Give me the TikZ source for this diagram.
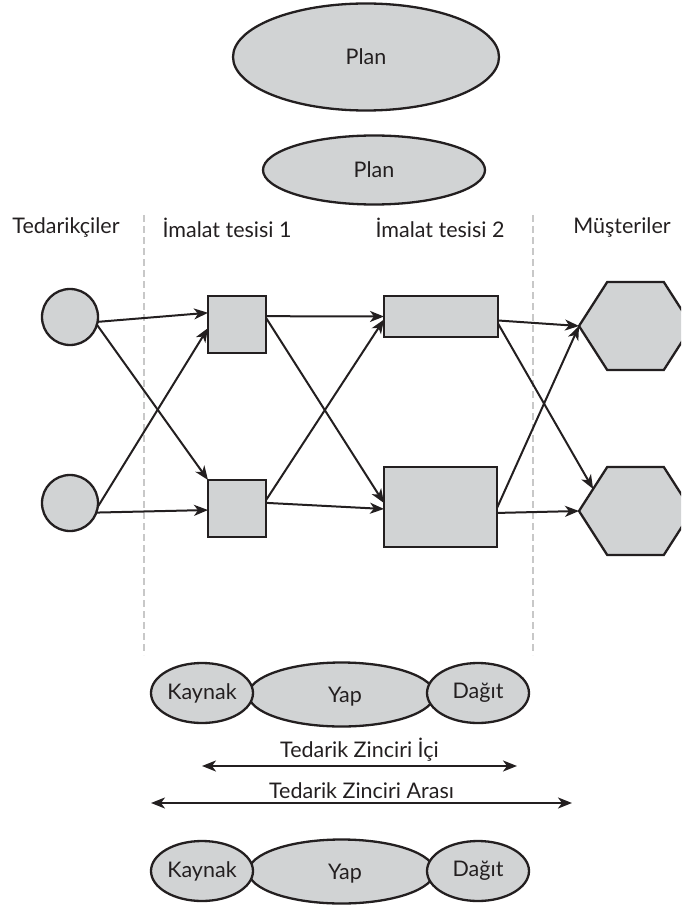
\documentclass[tikz,border=0pt]{standalone}
\usepackage{fontspec}
\setmainfont{Lato}
\usetikzlibrary{arrows.meta,shapes.geometric}

\definecolor{ink}{HTML}{231F20}
\definecolor{shade}{HTML}{D1D3D4}
\definecolor{rule}{HTML}{C8C8C8}

\begin{document}
\begin{tikzpicture}[x=1pt,y=-1pt,>={Stealth[length=14pt,width=11pt,inset=4pt]},
  every node/.style={text=ink,font=\fontsize{21.5}{25}\selectfont},
  box/.style={draw=ink,fill=shade,line width=2.3pt,inner sep=0pt,outer sep=0pt},
  blob/.style={box,ellipse},
  sup/.style={box,circle,minimum size=56pt},
  cust/.style={box,regular polygon,regular polygon sides=6,minimum size=113pt,yscale=0.9},
  flow/.style={->,draw=ink,line width=2pt},
  sep/.style={draw=rule,line width=1.8pt,dash pattern=on 7pt off 4pt}]
\useasboundingbox (0,0) rectangle (681,909);
\clip (0,0) rectangle (681,909);

% plan levels
\node[blob,minimum width=266pt,minimum height=107pt] (plan1) at (366,57) {Plan};
\node[blob,minimum width=222pt,minimum height=69pt] (plan2) at (374,170) {Plan};

% column titles
\node (ted) at (66,228) {Tedarikçiler};
\node (im1) at (227,228) {İmalat tesisi 1};
\node (im2) at (440,228) {İmalat tesisi 2};
\node (mus) at (622,228) {Müşteriler};

\draw[sep] (144,215) -- (144,655);
\draw[sep] (533,215) -- (533,655);

% network
\node[sup] (c1) at (70,317) {};
\node[sup] (c2) at (70,503) {};
\node[box,minimum width=58pt,minimum height=57pt] (s1) at (237,324.5) {};
\node[box,minimum width=58pt,minimum height=57pt] (s2) at (237,508.5) {};
\node[box,minimum width=114pt,minimum height=41pt] (r1) at (441,316.5) {};
\node[box,minimum width=113pt,minimum height=80pt] (r2) at (440.5,507) {};
\node[cust] (h1) at (635.5,326) {};
\node[cust] (h2) at (635.5,511) {};

\draw[flow] (c1.-10) -- (s1.158);
\draw[flow] (c1.-16) -- (s2.north west);
\draw[flow] (c2.-8) -- (s1.187);
\draw[flow] (c2.-20) -- (s2.183);
\draw[flow] (s1.16) -- (r1.west);
\draw[flow] (s1.13) -- (r2.176);
\draw[flow] (s2.16) -- (r1.183);
\draw[flow] (s2.11) -- (r2.182);
\draw[flow] (r1.-4) -- (h1.west);
\draw[flow] (r1.-7) -- (h2.150);
\draw[flow] (r2.-1) -- (h1.west);
\draw[flow] (r2.-6) -- (h2.west);

% processes
\node[blob,minimum width=186pt,minimum height=64pt] (yap1) at (341.5,694.5) {};
\node[blob,minimum width=102pt,minimum height=60pt] (kay1) at (202,693) {Kaynak};
\node[blob,minimum width=102pt,minimum height=60pt] (dag1) at (478,693) {Dağıt};
\node (yapt1) at (345,697) {Yap};

\coordinate (ic1) at (202,766);
\coordinate (ic2) at (517,766);
\coordinate (ar1) at (151,803);
\coordinate (ar2) at (572,803);
\draw[<->,draw=ink,line width=2pt] (ic1) -- node[above=0pt] {Tedarik Zinciri İçi} (ic2);
\draw[<->,draw=ink,line width=2pt] (ar1) -- node[above=0pt] {Tedarik Zinciri Arası} (ar2);

\node[blob,minimum width=186pt,minimum height=64pt] (yap2) at (341.5,871.5) {};
\node[blob,minimum width=102pt,minimum height=60pt] (kay2) at (202,871) {Kaynak};
\node[blob,minimum width=102pt,minimum height=60pt] (dag2) at (478,871) {Dağıt};
\node (yapt2) at (345,874) {Yap};
\end{tikzpicture}
\end{document}
